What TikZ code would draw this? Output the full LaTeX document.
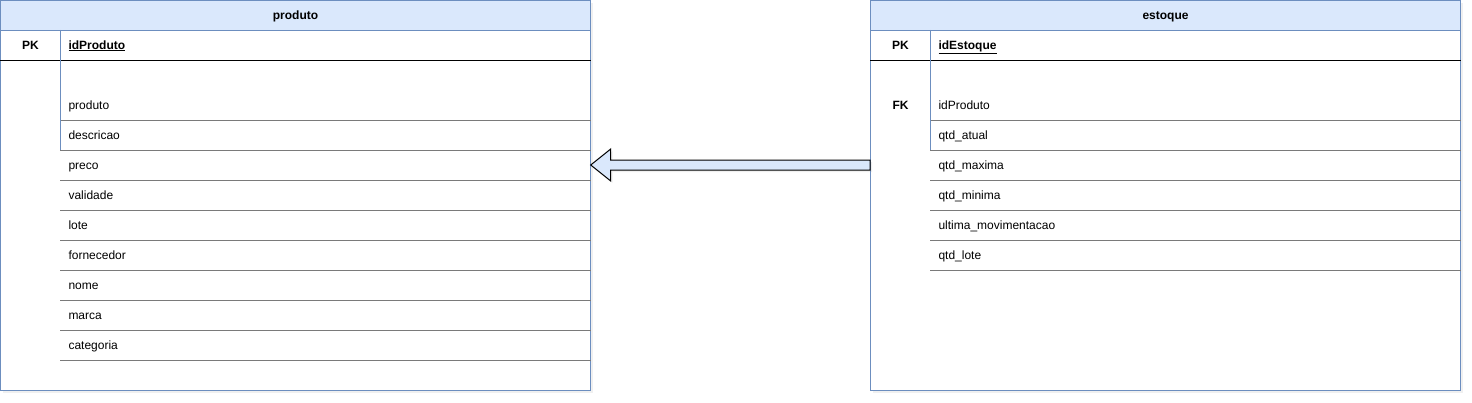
\documentclass[tikz,border=0pt]{standalone}
\usepackage{fontspec}
\setmainfont{Liberation Sans}
\usetikzlibrary{calc,shadows}
\definecolor{hdfill}{HTML}{DAE8FC}
\definecolor{hdline}{HTML}{6C8EBF}
\definecolor{rowgray}{HTML}{7A7A7A}
\newcommand{\dfont}{\fontsize{12}{14}\selectfont}
\tikzset{
  tbl/.style={draw=hdline, line width=1pt, fill=white, minimum width=590pt, minimum height=390pt, inner sep=0pt,
    drop shadow={opacity=0.12, shadow xshift=2.5pt, shadow yshift=-2.5pt}},
  hdr/.style={draw=hdline, line width=1pt, fill=hdfill, minimum width=590pt, minimum height=30pt, inner sep=0pt,
    font=\dfont\bfseries, text height=10pt, text depth=2pt},
  row/.style={minimum height=30pt, text width=514pt, inner xsep=8pt, inner ysep=0pt, align=left, anchor=center,
    font=\dfont, text height=10pt, text depth=2pt},
  key/.style={font=\dfont\bfseries, inner sep=0pt, text height=10pt, text depth=2pt},
  rowline/.style={draw=rowgray, line width=1pt},
  divline/.style={draw=hdline, line width=1pt},
  keyline/.style={draw=black, line width=1pt},
  blockarrow/.style={draw=black, line width=1pt, fill=hdfill, line join=miter,
    drop shadow={opacity=0.12, shadow xshift=2pt, shadow yshift=-2pt}}
}
\begin{document}
\begin{tikzpicture}[x=1pt, y=-1pt]
\useasboundingbox (0,0) rectangle (1472,402);
% ---------- produto ----------
\node[tbl] (prodBox) at (295.5,195.5) {};
\node[hdr] (prodHead) at (295.5,15.5) {produto};
\node[key] (prodPK) at (30.5,45) {PK};
\node[row] (prodId) at (325.5,45) {\textbf{\underline{idProduto}}};
\foreach \t [count=\i] in {produto,descricao,preco,validade,lote,fornecedor,nome,marca,categoria} {
  \node[row] (p\i) at (325.5,75+30*\i) {\t};
  \draw[rowline] (p\i.south west) -- (p\i.south east);
}
\draw[keyline] (prodBox.west |- prodId.south) -- (prodId.south east);
\draw[divline] (prodId.north west) -- (p2.south west);
% ---------- estoque ----------
\node[tbl] (estBox) at (1165.5,195.5) {};
\node[hdr] (estHead) at (1165.5,15.5) {estoque};
\node[key] (estPK) at (900.5,45) {PK};
\node[row] (estId) at (1195.5,45) {\textbf{\underline{idEstoque}}};
\foreach \t [count=\i] in {idProduto,qtd\_atual,qtd\_maxima,qtd\_minima,ultima\_movimentacao,qtd\_lote} {
  \node[row] (e\i) at (1195.5,75+30*\i) {\t};
  \draw[rowline] (e\i.south west) -- (e\i.south east);
}
\node[key] (estFK) at (900.5,105) {FK};
\draw[keyline] (estBox.west |- estId.south) -- (estId.south east);
\draw[divline] (estId.north west) -- (e2.south west);
% ---------- block arrow ----------
\coordinate (tip) at (p3.east);
\coordinate (tail) at (estBox.west |- tip);
\draw[blockarrow] (tip) -- ($(tip)+(20pt,16pt)$) -- ($(tip)+(20pt,5pt)$)
  -- ($(tail)+(0pt,5pt)$) -- ($(tail)+(0pt,-5pt)$) -- ($(tip)+(20pt,-5pt)$)
  -- ($(tip)+(20pt,-16pt)$) -- cycle;
\end{tikzpicture}
\end{document}
